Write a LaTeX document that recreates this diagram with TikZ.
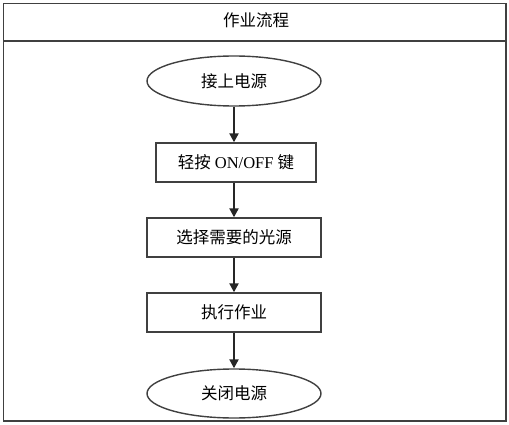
\documentclass[tikz,border=0pt]{standalone}
\usepackage{fontspec}
\setmainfont{Liberation Serif}
\newfontfamily\cjk{Noto Sans CJK SC}
\usetikzlibrary{shapes.geometric,arrows.meta}
\begin{document}
\begin{tikzpicture}[x=1pt,y=-1pt,
  frame/.style={draw=black!75,line width=1.4pt},
  procbox/.style={draw=black!75,line width=1.4pt,minimum width=165pt,minimum height=39pt,inner sep=0pt,font=\fontsize{16.5}{19}\selectfont},
  termell/.style={ellipse,draw=black!75,line width=1.4pt,minimum width=174pt,minimum height=50pt,inner sep=0pt,font=\fontsize{16.5}{19}\selectfont},
  flow/.style={draw=black!85,line width=2.2pt,-{Triangle[length=9pt,width=9pt]}}]
\useasboundingbox (0,0) rectangle (509,425);
\draw[frame] (3.5,3.5) rectangle (506,421);
\draw[frame] (3.5,41) -- (506,41);
\node[font=\fontsize{16.5}{19}\selectfont] (title) at (256,20) {\cjk 作业流程};
\node[termell] (e1) at (234,81) {\cjk 接上电源};
\node[procbox,minimum width=160pt] (b2) at (236,162.5) {{\cjk 轻按} ON/OFF {\cjk 键}};
\node[procbox,minimum width=174pt] (b3) at (234,237.5) {\cjk 选择需要的光源};
\node[procbox,minimum width=174pt] (b4) at (234,312.5) {\cjk 执行作业};
\node[termell,minimum height=49pt] (e5) at (234,393.5) {\cjk 关闭电源};
\draw[flow] (e1.south) -- (e1.south |- b2.north);
\draw[flow] (e1.south |- b2.south) -- (b3.north);
\draw[flow] (b3.south) -- (b4.north);
\draw[flow] (b4.south) -- (e5.north);
\end{tikzpicture}
\end{document}
